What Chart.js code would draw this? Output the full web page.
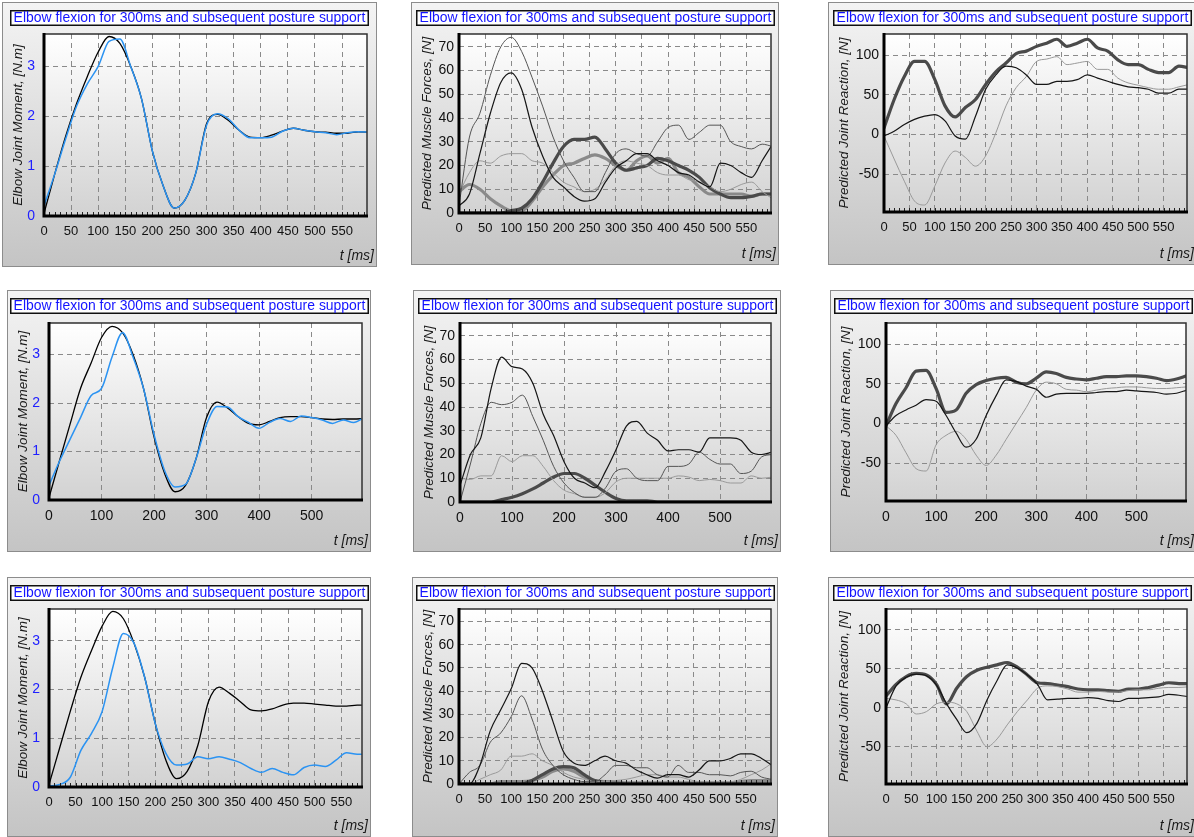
<!DOCTYPE html>
<html>
<head>
<meta charset="utf-8">
<title>Elbow flexion for 300ms and subsequent posture support</title>
<script src="https://cdn.jsdelivr.net/npm/chart.js@4.4.1/dist/chart.umd.min.js"></script>
<style>
  html, body { margin: 0; padding: 0; background: #fff; overflow: hidden; }
  body { width: 1194px; height: 837px; position: relative; }
  canvas { position: absolute; }
</style>
</head>
<body>
<script>
// time axis, ms (samples read every 20 ms)
const tMs = [0,20,40,60,80,100,120,140,160,180,200,220,240,260,280,300,320,340,360,380,400,420,440,460,480,500,520,540,560,580,600];

// tick labels
const xTicks50  = [0,50,100,150,200,250,300,350,400,450,500,550];
const xTicks100 = [0,100,200,300,400,500];
const yTicksMoment   = [0,1,2,3];
const yTicksForces   = [0,10,20,30,40,50,60,70];
const yTicksReaction = [-50,0,50,100];

// --- row 1 ---
const m1Black = [0.05,0.85,1.6,2.25,2.8,3.29,3.6,3.46,3.0,2.35,1.3,0.6,0.16,0.32,0.86,1.85,2.04,1.92,1.72,1.58,1.57,1.62,1.7,1.76,1.72,1.69,1.68,1.66,1.66,1.69,1.68];
const m1Blue  = [0.2,0.85,1.55,2.2,2.65,3.0,3.5,3.55,3.0,2.35,1.3,0.6,0.16,0.32,0.86,1.82,2.05,1.95,1.72,1.57,1.57,1.58,1.7,1.76,1.72,1.69,1.67,1.63,1.67,1.69,1.68];

const f1A = [3,32,42,58,70,74,68,57,45,32,22,15,9,9,17,25,27,25,24,30,36,37,31,34,37,37,30,28,27,29,28];
const f1B = [3,8,25,42,55,59,52,36,24,15,11,7,5,6,13,19,22,25,25,22,20,17,16,13,11,21,20,17,15,22,29];
const f1C = [8,17,22,21,24,25,25,22,21,17,13,11,9,10,14,20,22,21,20,17,16,16,14,13,11,9,10,12,13,9,6];
const f1D = [0,0,0,0,0,1,2,6,13,21,28,31,31,32,27,21,18,19,20,23,22,20,18,15,10.5,8,6.5,6.5,7,8,8];
const f1E = [9,12,10,6,3,1,1,5,11,16,20,21,23,24.5,23,20,18,22,24,21,23,17,15,11,8,8,8,8,7,8,8];

const r1Thick = [8,44,73,92,92,69,36,22,34,44,63,79,90,102,105,111,115,120,111,115,120,109,105,94,88,88,82,78,78,86,84];
const r1Black = [-2,4,12.5,19,23,25,17,-2,-6,23,57,75,86,84,75,63,63,67,67,69,75,71,67,63,60,59,57,52,52,57,57];
const r1Gray  = [-2,-31,-59,-84,-89,-65,-36,-21,-29,-40,-27,2,36,59,73,92,95,98,88,90,92,82,82,71,65,62,59,57,57,60,63];

// --- row 2 ---
const m2Black = [0.05,0.81,1.56,2.3,2.82,3.35,3.58,3.45,3.0,2.3,1.3,0.55,0.17,0.3,0.85,1.7,2.02,1.9,1.72,1.58,1.55,1.62,1.7,1.72,1.72,1.7,1.67,1.66,1.67,1.67,1.68];
const m2Blue  = [0.3,0.8,1.25,1.7,2.15,2.3,2.95,3.45,2.95,2.3,1.35,0.61,0.27,0.32,0.85,1.56,1.93,1.92,1.72,1.6,1.48,1.6,1.68,1.62,1.73,1.7,1.65,1.58,1.65,1.6,1.7];

const f2Black = [7,20,27,48,61,57,56,50,37,28,17,10,8,6,13,22,32,34,29,26,21.5,22,22,21,27,27,27,26,21,20,21];
const f2Dark  = [0,16,33,42,41,42,45,36,26,15,8,4,2,2,6,13,14,10,9,9,15,15,16,21,18,16,16,12,13,19,20];
const f2Light = [10,9.5,11,11,19.5,17,19.5,19.5,15,9,5,3.5,2,2,4,8.5,10,10,10,10,10,11,10.5,9,9.5,9,8,8,11,10,10.5];
const f2Thick = [0,0,0,0,1,2,3.5,5.5,8,10.5,12,12,10,7,4,1.5,0.5,0.5,0.5,0,0,0,0,0,0,0,0,0,0,0,0];

const r2Thick = [-3,25,45,66,67,44,14,17,38,49,54,57,58,52,50,57,65,63,58,56,55,57,59,59,60,60,59,57,54,56,60];
const r2Black = [-3,10,17,23,30,28,10,-12,-30,-20,10,35,55,53,47,43,33,37,38,38,38,39,40,40,42,41,40,39,37,38,42];
const r2Gray  = [-3,-15,-37,-57,-60,-27,-15,-10,-20,-40,-53,-40,-20,0,20,42,52,50,43,42,40,42,44,45,46,46,45,44,44,45,46];

// --- row 3 ---
const m3Black = [0.05,0.8,1.55,2.25,2.8,3.3,3.6,3.45,2.95,2.25,1.3,0.55,0.17,0.32,0.85,1.75,2.05,1.92,1.75,1.58,1.56,1.6,1.68,1.72,1.72,1.7,1.68,1.66,1.66,1.68,1.68];
const m3Blue  = [0.02,0.05,0.2,0.75,1.1,1.55,2.45,3.15,2.95,2.25,1.3,0.69,0.45,0.47,0.62,0.58,0.62,0.57,0.5,0.38,0.3,0.38,0.3,0.25,0.4,0.45,0.42,0.55,0.7,0.67,0.68];

const f3Black = [0,0,8,23,32,41,52,50,40,27,14,9,8,10,12,10,9,6,4,2.5,4,4,3,6,10,10,11,13,13,11,8];
const f3Dark  = [0,5,8,18,22,29,38,28,15,8,4,2,1,1,4,8,8,7,7,4,3,8,5,5,4,4,3.5,5,5.5,3,2];
const f3Light = [0,0,2,4,6,12,12,13,10,8,5,3,2,1,1,1.5,2,3,4,4,3,3,2,1,1,1,1,2,4,6,9];
const f3Thick = [0,0,0,0,0,0,0,1.5,4,6.5,7.5,7,4,1.5,0.5,0.3,0,0,0,0,0,0,0,0,0,0,0,0,0,0,0];
const f3Mid   = [0,0,0,0,1,1,1,1.5,3,5.5,6.5,5.5,3,1.5,1,1,0.5,0.5,0.5,0.5,0.5,0.5,0.5,0.5,0.5,0.5,0.5,1,1.5,1.5,1.5];

const r3Thick = [15,30,40,44,42,30,5,25,40,48,52,55,58,52,42,32,31,29,27,24,23,23,22,21,24,24,26,29,32,31,31];
const r3Black = [0,28,39,43,41,29,5,-15,-32,-20,10,35,55,51,42,30,10,11,12,12,13,12,9,8,12,12,13,14,17,16,14];
const r3Gray  = [12,10,5,-8,-5,5,7,5,-5,-30,-50,-40,-22,-5,10,25,28,27,24,20,20,21,20,20,22,23,23,25,26,26,27];

const titleText = 'Elbow flexion for 300ms and subsequent posture support';

// line styles
const STYLE = {
  black:     { color: '#000000', width: 1.3 },
  blue:      { color: '#2b93f2', width: 1.5 },
  thinDark:  { color: '#555555', width: 1 },
  thinBlack: { color: '#151515', width: 1.2 },
  thinLight: { color: '#9a9a9a', width: 1 },
  thickDark: { color: '#4a4a4a', width: 3.2 },
  thickMid:  { color: '#8a8a8a', width: 3.2 }
};

// axis kinds
const KIND = {
  moment:   { label: 'Elbow Joint Moment, [N.m]',     min: 0,     max: 3.65,  ticks: yTicksMoment,   tickColor: '#2020ff', pad: 9 },
  forces:   { label: 'Predicted Muscle Forces, [N]',  min: 0,     max: 75.4,  ticks: yTicksForces,   tickColor: '#111111', pad: 5 },
  reaction: { label: 'Predicted Joint Reaction, [N]', min: -97.8, max: 126.6, ticks: yTicksReaction, tickColor: '#111111', pad: 5 }
};

// panel box [x,y,w,h], plot area [left,top,right,bottom] in page pixels
const panels = [
  { box: [2, 2, 375, 265],   plot: [44, 34, 367, 216],   kind: 'moment',   step: 50,  xMax: 596,
    lines: [[m1Blue, 'blue'], [m1Black, 'black']] },
  { box: [411, 2, 368, 263], plot: [459, 34, 771, 213],  kind: 'forces',   step: 50,  xMax: 597,
    lines: [[f1B, 'thinBlack'], [f1A, 'thinDark'], [f1C, 'thinLight'], [f1D, 'thickDark'], [f1E, 'thickMid']] },
  { box: [828, 2, 369, 263], plot: [884, 34, 1187, 212], kind: 'reaction', step: 50,  xMax: 596,
    lines: [[r1Black, 'thinBlack'], [r1Gray, 'thinLight'], [r1Thick, 'thickDark']] },

  { box: [7, 290, 364, 262],   plot: [49, 323, 362, 500],   kind: 'moment',   step: 100, xMax: 596,
    lines: [[m2Blue, 'blue'], [m2Black, 'black']] },
  { box: [413, 290, 368, 262], plot: [460, 323, 771, 502],  kind: 'forces',   step: 100, xMax: 598,
    lines: [[f2Black, 'thinBlack'], [f2Dark, 'thinDark'], [f2Light, 'thinLight'], [f2Thick, 'thickDark']] },
  { box: [830, 290, 367, 262], plot: [886, 323, 1186, 501], kind: 'reaction', step: 100, xMax: 599,
    lines: [[r2Black, 'thinBlack'], [r2Gray, 'thinLight'], [r2Thick, 'thickDark']] },

  { box: [7, 577, 364, 260],   plot: [49, 609, 362, 787],   kind: 'moment',   step: 50,  xMax: 589,
    lines: [[m3Blue, 'blue'], [m3Black, 'black']] },
  { box: [412, 577, 366, 260], plot: [459, 609, 771, 784],  kind: 'forces',   step: 50,  xMax: 598,
    lines: [[f3Black, 'thinBlack'], [f3Dark, 'thinDark'], [f3Light, 'thinLight'], [f3Thick, 'thickDark'], [f3Mid, 'thickMid']] },
  { box: [828, 577, 369, 260], plot: [886, 609, 1187, 784], kind: 'reaction', step: 50,  xMax: 596,
    lines: [[r3Black, 'thinBlack'], [r3Gray, 'thinLight'], [r3Thick, 'thickDark']] }
];

const FONT = '"Liberation Sans", Arial, sans-serif';

// use fixed tick lists instead of generated ones
function fixedTicks(values) {
  return s => { s.ticks = values.map(v => ({ value: v })); };
}

// panel background, title box, axis titles, frame and minor ticks
const panelDeco = {
  id: 'panelDeco',
  beforeDraw(chart, args, opts) {
    const { ctx, width, height, chartArea: a } = chart;
    ctx.save();
    let g = ctx.createLinearGradient(0, 0, 0, height);
    g.addColorStop(0, '#f4f4f4');
    g.addColorStop(1, '#c4c4c4');
    ctx.fillStyle = g;
    ctx.fillRect(0, 0, width, height);
    ctx.strokeStyle = '#8c8c8c';
    ctx.lineWidth = 1;
    ctx.strokeRect(0.5, 0.5, width - 1, height - 1);

    g = ctx.createLinearGradient(0, a.top, 0, a.bottom);
    g.addColorStop(0, '#ffffff');
    g.addColorStop(1, '#d2d2d2');
    ctx.fillStyle = g;
    ctx.fillRect(a.left, a.top, a.right - a.left, a.bottom - a.top);

    // title box
    ctx.font = '13px ' + FONT;
    let tw = ctx.measureText(titleText).width;
    const size = 13 * 352 / tw;
    ctx.font = size.toFixed(2) + 'px ' + FONT;
    tw = ctx.measureText(titleText).width;
    const bw = Math.round(tw + 7), bh = 16;
    const bx = Math.round((width - bw) / 2), by = 8;
    ctx.fillStyle = '#ffffff';
    ctx.fillRect(bx, by, bw, bh);
    ctx.strokeStyle = '#111111';
    ctx.lineWidth = 1.5;
    ctx.strokeRect(bx + 0.75, by + 0.75, bw - 1.5, bh - 1.5);
    ctx.fillStyle = '#1414ff';
    ctx.textAlign = 'center';
    ctx.textBaseline = 'middle';
    ctx.fillText(titleText, bx + bw / 2, by + bh / 2 + 0.5);

    // y title
    ctx.save();
    ctx.translate(16, (a.top + a.bottom) / 2);
    ctx.rotate(-Math.PI / 2);
    ctx.font = 'italic 13.5px ' + FONT;
    ctx.fillStyle = '#1a1a1a';
    ctx.fillText(opts.yLabel, 0, 0);
    ctx.restore();

    // x title
    ctx.font = 'italic 14px ' + FONT;
    ctx.textAlign = 'right';
    ctx.fillStyle = '#1a1a1a';
    ctx.fillText('t [ms]', width - 3, height - 11);
    ctx.restore();
  },
  afterDatasetsDraw(chart, args, opts) {
    const { ctx, chartArea: a, scales } = chart;
    ctx.save();
    if (opts.minor) {
      ctx.strokeStyle = '#222222';
      ctx.lineWidth = 1;
      ctx.beginPath();
      for (let t = 10; t < scales.x.max; t += 10) {
        const px = Math.round(scales.x.getPixelForValue(t)) + 0.5;
        ctx.moveTo(px, a.bottom);
        ctx.lineTo(px, a.bottom - 4);
      }
      ctx.stroke();
    }
    ctx.strokeStyle = '#303030';
    ctx.lineWidth = 1.5;
    ctx.strokeRect(a.left, a.top, a.right - a.left, a.bottom - a.top);
    ctx.strokeStyle = '#000000';
    ctx.lineWidth = 3;
    ctx.beginPath();
    ctx.moveTo(a.left, a.top - 1);
    ctx.lineTo(a.left, a.bottom);
    ctx.lineTo(a.right + 1, a.bottom);
    ctx.stroke();
    ctx.restore();
  }
};

panels.forEach(p => {
  const [bx, by, bw, bh] = p.box;
  const [pl, pt, pr, pb] = p.plot;
  const k = KIND[p.kind];
  const canvas = document.createElement('canvas');
  canvas.width = bw;
  canvas.height = bh;
  canvas.style.left = bx + 'px';
  canvas.style.top = by + 'px';
  canvas.style.width = bw + 'px';
  canvas.style.height = bh + 'px';
  document.body.appendChild(canvas);

  const datasets = p.lines.map(([arr, styleName]) => ({
    data: arr,
    borderColor: STYLE[styleName].color,
    borderWidth: STYLE[styleName].width,
    pointRadius: 0,
    fill: false
  }));

  new Chart(canvas, {
    type: 'line',
    data: { labels: tMs, datasets: datasets },
    plugins: [panelDeco],
    options: {
      responsive: false,
      animation: false,
      devicePixelRatio: 1,
      layout: { padding: { left: 0, top: pt - by, right: (bx + bw) - pr, bottom: 0 } },
      elements: {
        line: { cubicInterpolationMode: 'monotone', borderJoinStyle: 'round', borderCapStyle: 'round' },
        point: { radius: 0 }
      },
      plugins: {
        legend: { display: false },
        tooltip: { enabled: false },
        panelDeco: { yLabel: k.label, minor: p.step === 50 }
      },
      scales: {
        x: {
          type: 'linear',
          min: 0,
          max: p.xMax,
          afterBuildTicks: fixedTicks(p.step === 50 ? xTicks50 : xTicks100),
          afterFit: s => { s.height = (by + bh) - pb; },
          grid: { color: '#8a8a8a', lineWidth: 1, drawTicks: false },
          border: { display: false, dash: [5, 4] },
          ticks: {
            autoSkip: false,
            maxRotation: 0,
            padding: 8,
            color: '#111111',
            font: { family: FONT, size: p.step === 50 ? 13 : 14 },
            callback: v => String(v)
          }
        },
        y: {
          min: k.min,
          max: k.max,
          afterBuildTicks: fixedTicks(k.ticks),
          afterFit: s => { s.width = pl - bx; },
          grid: { color: '#8a8a8a', lineWidth: 1, drawTicks: false },
          border: { display: false, dash: [5, 4] },
          ticks: {
            autoSkip: false,
            padding: k.pad,
            color: k.tickColor,
            font: { family: FONT, size: 14 },
            callback: v => String(v)
          }
        }
      }
    }
  });
});
</script>
</body>
</html>
